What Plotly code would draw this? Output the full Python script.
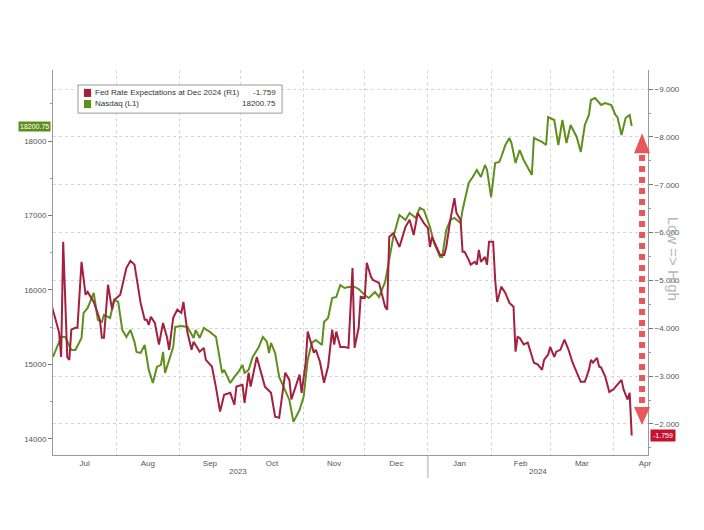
import plotly.graph_objects as go

# Fed rate expectations at Dec 2024 (right axis, reversed)
fed_dates = [
    "2023-06-30", "2023-07-03", "2023-07-04", "2023-07-05", "2023-07-06", "2023-07-08", "2023-07-09",
    "2023-07-10", "2023-07-12", "2023-07-13", "2023-07-15", "2023-07-17", "2023-07-18", "2023-07-21",
    "2023-07-24", "2023-07-25", "2023-07-26", "2023-07-28", "2023-07-30", "2023-07-31", "2023-08-03",
    "2023-08-06", "2023-08-08", "2023-08-10", "2023-08-13", "2023-08-15", "2023-08-16", "2023-08-17",
    "2023-08-18", "2023-08-20", "2023-08-22", "2023-08-24", "2023-08-26", "2023-08-27", "2023-08-29",
    "2023-08-31", "2023-09-02", "2023-09-03", "2023-09-05", "2023-09-07", "2023-09-08", "2023-09-11",
    "2023-09-13", "2023-09-14", "2023-09-17", "2023-09-19", "2023-09-21", "2023-09-23", "2023-09-26",
    "2023-09-28", "2023-09-29", "2023-10-02", "2023-10-03", "2023-10-05", "2023-10-06", "2023-10-09",
    "2023-10-11", "2023-10-13", "2023-10-16", "2023-10-18", "2023-10-20", "2023-10-23", "2023-10-25",
    "2023-10-26", "2023-10-30", "2023-10-31", "2023-11-02", "2023-11-03", "2023-11-06", "2023-11-07",
    "2023-11-09", "2023-11-11", "2023-11-13", "2023-11-15", "2023-11-16", "2023-11-17", "2023-11-19",
    "2023-11-21", "2023-11-23", "2023-11-25", "2023-11-26", "2023-11-28", "2023-11-29", "2023-12-01",
    "2023-12-02", "2023-12-04", "2023-12-05", "2023-12-07", "2023-12-08", "2023-12-11", "2023-12-12",
    "2023-12-13", "2023-12-15", "2023-12-18", "2023-12-21", "2023-12-23", "2023-12-25", "2023-12-27",
    "2023-12-30", "2024-01-01", "2024-01-02", "2024-01-03", "2024-01-05", "2024-01-07", "2024-01-09",
    "2024-01-10", "2024-01-12", "2024-01-14", "2024-01-15", "2024-01-17", "2024-01-18", "2024-01-19",
    "2024-01-21", "2024-01-22", "2024-01-24", "2024-01-25", "2024-01-26", "2024-01-27", "2024-01-29",
    "2024-01-30", "2024-01-31", "2024-02-02", "2024-02-03", "2024-02-04", "2024-02-06", "2024-02-08",
    "2024-02-10", "2024-02-12", "2024-02-13", "2024-02-14", "2024-02-15", "2024-02-17", "2024-02-19",
    "2024-02-21", "2024-02-22", "2024-02-24", "2024-02-26", "2024-02-27", "2024-02-29", "2024-03-01",
    "2024-03-03", "2024-03-04", "2024-03-06", "2024-03-08", "2024-03-10", "2024-03-12", "2024-03-14",
    "2024-03-16", "2024-03-18", "2024-03-20", "2024-03-21", "2024-03-22", "2024-03-24", "2024-03-25",
    "2024-03-26", "2024-03-28", "2024-03-30", "2024-04-01", "2024-04-03", "2024-04-05", "2024-04-06",
    "2024-04-08", "2024-04-09", "2024-04-10",
]
fed_values = [
    -4.53, -4.03, -3.91, -3.40, -5.81, -3.40, -3.34,
    -3.97, -4.01, -4.01, -5.39, -4.70, -4.76, -4.55,
    -4.18, -3.80, -3.80, -4.91, -4.39, -4.59, -4.70,
    -5.26, -5.41, -5.33, -4.53, -4.18, -4.18, -4.07,
    -4.24, -4.11, -3.66, -4.11, -3.80, -3.55, -4.22,
    -4.39, -4.32, -4.55, -3.91, -3.55, -3.72, -3.51,
    -3.59, -3.34, -3.20, -2.76, -2.26, -2.61, -2.65,
    -2.40, -2.78, -2.82, -2.44, -3.07, -2.78, -3.40,
    -3.09, -2.78, -2.65, -2.15, -2.13, -3.07, -2.92,
    -2.51, -3.03, -2.65, -3.28, -3.93, -3.49, -3.55,
    -3.30, -2.86, -3.20, -3.97, -3.66, -3.93, -3.61,
    -3.61, -3.59, -5.26, -3.59, -4.01, -4.66, -4.64,
    -5.37, -5.08, -5.01, -4.97, -4.95, -4.45, -4.39,
    -5.91, -5.99, -5.70, -6.12, -6.27, -5.95, -6.41,
    -6.20, -6.10, -5.70, -5.91, -5.70, -5.53, -5.53,
    -5.70, -6.27, -6.72, -6.41, -6.27, -5.60, -5.60,
    -5.43, -5.33, -5.39, -5.33, -5.64, -5.39, -5.49,
    -5.33, -5.81, -5.81, -5.01, -4.55, -4.87, -4.74,
    -4.53, -4.45, -3.51, -3.82, -3.80, -3.66, -3.70,
    -3.40, -3.28, -3.24, -3.13, -3.34, -3.45, -3.61,
    -3.40, -3.51, -3.55, -3.76, -3.55, -3.28, -3.07,
    -2.88, -2.88, -3.13, -3.34, -3.28, -3.38, -3.20,
    -3.18, -2.99, -2.67, -2.72, -2.82, -2.92, -2.72,
    -2.51, -2.65, -1.759,
]

# Nasdaq (left axis)
ndx_dates = [
    "2023-07-01", "2023-07-03", "2023-07-05", "2023-07-07", "2023-07-10", "2023-07-12", "2023-07-15",
    "2023-07-16", "2023-07-18", "2023-07-20", "2023-07-21", "2023-07-23", "2023-07-25", "2023-07-26",
    "2023-07-29", "2023-07-31", "2023-08-02", "2023-08-04", "2023-08-06", "2023-08-08", "2023-08-10",
    "2023-08-11", "2023-08-13", "2023-08-15", "2023-08-17", "2023-08-19", "2023-08-21", "2023-08-23",
    "2023-08-24", "2023-08-25", "2023-08-27", "2023-08-29", "2023-08-30", "2023-09-02", "2023-09-05",
    "2023-09-08", "2023-09-09", "2023-09-11", "2023-09-13", "2023-09-16", "2023-09-19", "2023-09-22",
    "2023-09-23", "2023-09-26", "2023-09-28", "2023-09-30", "2023-10-02", "2023-10-03", "2023-10-05",
    "2023-10-07", "2023-10-10", "2023-10-12", "2023-10-14", "2023-10-15", "2023-10-16", "2023-10-18",
    "2023-10-20", "2023-10-22", "2023-10-25", "2023-10-27", "2023-10-30", "2023-11-01", "2023-11-03",
    "2023-11-05", "2023-11-07", "2023-11-10", "2023-11-11", "2023-11-13", "2023-11-15", "2023-11-17",
    "2023-11-19", "2023-11-21", "2023-11-23", "2023-11-26", "2023-11-28", "2023-12-01", "2023-12-03",
    "2023-12-06", "2023-12-08", "2023-12-11", "2023-12-13", "2023-12-15", "2023-12-18", "2023-12-21",
    "2023-12-23", "2023-12-26", "2023-12-28", "2023-12-30", "2024-01-02", "2024-01-04", "2024-01-07",
    "2024-01-08", "2024-01-10", "2024-01-12", "2024-01-14", "2024-01-17", "2024-01-18", "2024-01-21",
    "2024-01-23", "2024-01-25", "2024-01-27", "2024-01-29", "2024-01-30", "2024-02-01", "2024-02-03",
    "2024-02-05", "2024-02-06", "2024-02-08", "2024-02-10", "2024-02-11", "2024-02-13", "2024-02-15",
    "2024-02-17", "2024-02-19", "2024-02-21", "2024-02-22", "2024-02-24", "2024-02-26", "2024-02-28",
    "2024-02-29", "2024-03-03", "2024-03-05", "2024-03-07", "2024-03-09", "2024-03-11", "2024-03-14",
    "2024-03-16", "2024-03-18", "2024-03-20", "2024-03-21", "2024-03-23", "2024-03-26", "2024-03-28",
    "2024-03-31", "2024-04-02", "2024-04-03", "2024-04-05", "2024-04-07", "2024-04-09", "2024-04-10",
]
ndx_values = [
    15101, 15235, 15370, 15370, 15195, 15195, 15356,
    15692, 15759, 15893, 15960, 15598, 15571, 15665,
    15625, 15866, 15839, 15464, 15370, 15464, 15302,
    15168, 15155, 15262, 14927, 14752, 14967, 14994,
    15168, 14887, 15061, 15235, 15504, 15517, 15504,
    15356, 15464, 15356, 15490, 15437, 15370, 14887,
    14927, 14752, 14833, 14900, 14994, 14887, 14927,
    15101, 15235, 15370, 15302, 15155, 15289, 15155,
    14833, 14699, 14524, 14229, 14390, 14565, 15061,
    15289, 15329, 15262, 15571, 15625, 15893, 15906,
    16067, 16027, 16041, 16041, 16014, 15933, 15893,
    15974, 15906, 16108, 16430, 16712, 17007, 16940,
    17034, 16967, 17101, 17074, 16846, 16631, 16443,
    16443, 16806, 16940, 16967, 16900, 17074, 17436,
    17517, 17611, 17517, 17678, 17611, 17248, 17705,
    17718, 17785, 17946, 18040, 17973, 17705, 17879,
    17745, 17651, 17544, 18040, 18013, 17987, 17946,
    18322, 18282, 17946, 18282, 17973, 18215, 18054,
    17852, 18215, 18349, 18550, 18577, 18483, 18510,
    18483, 18349, 18322, 18081, 18309, 18349, 18200.75,
]

fed_name = "Fed Rate Expectations at Dec 2024 (R1)"
ndx_name = "Nasdaq (L1)"
years = ["2023", "2024"]

red = "#a3203f"
green = "#5e8f1c"
arrow_red = "#e8575a"

fig = go.Figure()
fig.add_trace(go.Scatter(x=ndx_dates, y=ndx_values, name=ndx_name, mode="lines",
                         line=dict(color=green, width=2), yaxis="y"))
fig.add_trace(go.Scatter(x=fed_dates, y=fed_values, name=fed_name, mode="lines",
                         line=dict(color=red, width=2), yaxis="y2"))

tick_font = dict(family="Liberation Sans, Arial, sans-serif", size=8, color="#555")

# page body adds 8px, so the figure is a bit smaller than the window
fig.update_layout(
    width=696, height=522,
    margin=dict(l=45, r=56, t=62, b=75),
    paper_bgcolor="white", plot_bgcolor="white",
    showlegend=False,
    font=dict(family="Liberation Sans, Arial, sans-serif", size=8, color="#444"),
    xaxis=dict(
        type="date", range=["2023-07-01", "2024-04-18"],
        tick0="2023-07-01", dtick="M1", tickformat="%b", ticklabelmode="period",
        showgrid=True, gridcolor="#d6d6d6", griddash="dot", gridwidth=1,
        showline=True, linecolor="#999", ticks="", tickfont=tick_font,
    ),
    yaxis=dict(
        range=[13785, 18953], tickvals=[14000, 15000, 16000, 17000, 18000], tickformat="d",
        showgrid=False, zeroline=False, showline=True, linecolor="#999",
        ticks="outside", ticklen=4, tickcolor="#777", tickfont=tick_font,
        minor=dict(ticks="outside", ticklen=2, dtick=500, tickcolor="#999", showgrid=False),
    ),
    yaxis2=dict(
        overlaying="y", side="right", range=[-1.35, -9.4], dtick=1, tickformat=".3f",
        showgrid=True, gridcolor="#d6d6d6", griddash="dot", gridwidth=1,
        zeroline=False, showline=True, linecolor="#999",
        ticks="outside", ticklen=4, tickcolor="#777", tickfont=tick_font,
        minor=dict(ticks="outside", ticklen=2, dtick=0.5, tickcolor="#999", showgrid=False),
    ),
)

# legend box
fig.add_shape(type="rect", xref="paper", yref="paper", x0=0.042, x1=0.385, y0=0.888, y1=0.961,
              line=dict(color="#999", width=1), fillcolor="white", layer="above")
fig.add_shape(type="rect", xref="paper", yref="paper", x0=0.052, x1=0.064, y0=0.930, y1=0.951,
              line=dict(width=0), fillcolor=red, layer="above")
fig.add_shape(type="rect", xref="paper", yref="paper", x0=0.052, x1=0.064, y0=0.901, y1=0.922,
              line=dict(width=0), fillcolor=green, layer="above")
legend_font = dict(family="Liberation Sans, Arial, sans-serif", size=8, color="#333")
fig.add_annotation(x=0.068, y=0.941, xref="paper", yref="paper", text=fed_name,
                   showarrow=False, xanchor="left", yanchor="middle", font=legend_font)
fig.add_annotation(x=0.068, y=0.912, xref="paper", yref="paper", text=ndx_name,
                   showarrow=False, xanchor="left", yanchor="middle", font=legend_font)
fig.add_annotation(x=0.378, y=0.941, xref="paper", yref="paper", text=f"{fed_values[-1]:.3f}",
                   showarrow=False, xanchor="right", yanchor="middle", font=legend_font)
fig.add_annotation(x=0.378, y=0.912, xref="paper", yref="paper", text=f"{ndx_values[-1]:.2f}",
                   showarrow=False, xanchor="right", yanchor="middle", font=legend_font)

# last value tags on axes
fig.add_annotation(x=0, y=ndx_values[-1], xref="paper", yref="y", text=f"{ndx_values[-1]:.2f}",
                   showarrow=False, xanchor="right", yanchor="middle", xshift=-2,
                   bgcolor=green, borderpad=1,
                   font=dict(family="Liberation Sans, Arial, sans-serif", size=7, color="white"))
fig.add_annotation(x=1, y=fed_values[-1], xref="paper", yref="y2", text=f"{fed_values[-1]:.3f}",
                   showarrow=False, xanchor="left", yanchor="middle", xshift=2,
                   bgcolor="#c41230", borderpad=2,
                   font=dict(family="Liberation Sans, Arial, sans-serif", size=7, color="white"))

# year labels and separator
fig.add_annotation(x="2023-09-30", y=-0.042, xref="x", yref="paper", text=years[0],
                   showarrow=False, yanchor="middle", font=tick_font)
fig.add_annotation(x="2024-02-24", y=-0.042, xref="x", yref="paper", text=years[1],
                   showarrow=False, yanchor="middle", font=tick_font)
fig.add_shape(type="line", xref="x", yref="paper", x0="2024-01-01", x1="2024-01-01", y0=0, y1=-0.06,
              line=dict(color="#aaa", width=1))

# Low => High arrow
fig.add_shape(type="line", xref="paper", yref="paper", x0=0.990, x1=0.990, y0=0.135, y1=0.780,
              line=dict(color=arrow_red, width=6, dash="6px,5px"), layer="above")
fig.add_shape(type="path", xref="paper", yref="paper",
              path="M 0.9765 0.784 L 1.0035 0.784 L 0.990 0.836 Z",
              fillcolor=arrow_red, line=dict(width=0), layer="above")
fig.add_shape(type="path", xref="paper", yref="paper",
              path="M 0.9765 0.125 L 1.0035 0.125 L 0.990 0.078 Z",
              fillcolor=arrow_red, line=dict(width=0), layer="above")
fig.add_annotation(x=1.042, y=0.51, xref="paper", yref="paper", text="Low => High",
                   showarrow=False, textangle=90, xanchor="center", yanchor="middle",
                   font=dict(family="Liberation Sans, Arial, sans-serif", size=15, color="#b5b5b5"))

fig.write_html("out.html")
